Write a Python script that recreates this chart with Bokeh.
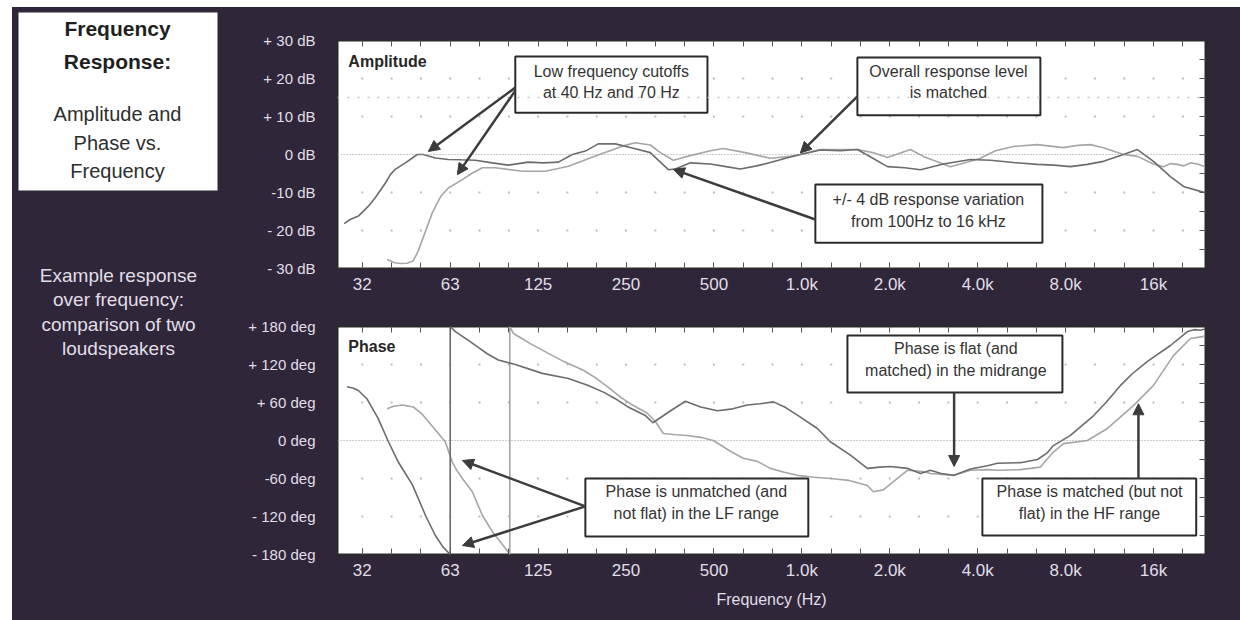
from bokeh.plotting import figure
from bokeh.layouts import row, column
from bokeh.models import (Range1d, FixedTicker, LinearAxis, LogAxis, Arrow,
                          NormalHead, Span, CustomJSTickFormatter)
from bokeh.core.properties import value
from bokeh.embed import file_html
from bokeh.resources import INLINE

FONT = "Liberation Sans"
PANEL = "#2f2739"
LIGHT_TEXT = "#e2dee8"
BOX_TEXT = "#333333"
FRAME = "#2b2b2b"
TICK = "#555555"
ARROW = "#3c3c3c"
COLOR_A = "#6c6c6c"   # speaker with the 40 Hz cutoff
COLOR_B = "#a6a6a6"   # speaker with the 70 Hz cutoff
GRID_DOT = "#bdbdbd"

# ---- axes -------------------------------------------------------------
band_ticks = [31.25, 62.5, 125.0, 250.0, 500.0, 1000.0, 2000.0, 4000.0, 8000.0, 16000.0]
band_labels = ["32", "63", "125", "250", "500", "1.0k", "2.0k", "4.0k", "8.0k", "16k"]
third_octaves = [31.25 * 2 ** (k / 3) for k in range(-1, 29)]
F_MIN, F_MAX = 25.7, 24100

amp_ticks = [-30, -20, -10, 0, 10, 20, 30]
amp_labels = ["- 30 dB", "- 20 dB", "-10 dB", "0 dB", "+ 10 dB", "+ 20 dB", "+ 30 dB"]
amp_grid_rows = [-20, -10, 10, 20]

phase_ticks = [-180, -120, -60, 0, 60, 120, 180]
phase_labels = ["- 180 deg", "- 120 deg", "-60 deg", "0 deg", "+ 60 deg", "+ 120 deg", "+ 180 deg"]
phase_grid_rows = [-120, -60, 60, 120]

# ---- measured amplitude (dB) -------------------------------------------
amp_a_freq = [27.1, 28.4, 30.3, 32.8, 34.6, 37.5, 39.0, 40.5, 43.9, 48.2,
              50.6, 55.6, 61.6, 68.0, 76.2, 87.0, 98.8, 115.7, 130.0, 146.6,
              163.7, 181.4, 200.9, 229.7, 269.0, 302.7, 327.7, 349.0, 368.8, 415.0,
              486.0, 550.0, 615.6, 700.0, 780.0, 880.0, 988.0, 1157.0, 1355.0, 1549.0,
              1750.0, 1963.0, 2250.0, 2546.0, 3053.0, 3776.0, 4420.0, 5300.0, 6406.0, 7300.0,
              8309.0, 9500.0, 10778.0, 12622.0, 14091.0, 15990.0, 18278.0, 20253.0, 23163.0, 24000.0]
amp_a_db = [-18.2, -17.1, -16.2, -13.6, -11.4, -7.5, -5.3, -3.9, -2.2, 0.0,
            0.0, -0.9, -1.3, -1.4, -1.5, -2.2, -2.8, -2.0, -2.2, -2.0,
            0.0, 0.9, 2.8, 2.8, 1.5, 0.5, -2.0, -4.0, -3.8, -2.2,
            -2.5, -3.2, -3.8, -3.0, -2.1, -1.0, 0.0, 1.2, 1.0, 1.3,
            -1.0, -3.2, -3.5, -4.0, -2.5, -1.3, -1.5, -2.1, -2.6, -2.8,
            -3.2, -2.6, -1.8, 0.0, 1.3, -1.8, -5.8, -8.4, -9.7, -10.0]

amp_b_freq = [38.0, 40.0, 42.2, 44.5, 46.7, 48.5, 50.2, 54.3, 58.0, 61.6,
              68.8, 74.0, 80.5, 89.2, 110.3, 132.3, 158.7, 196.3, 242.8, 269.0,
              302.7, 327.7, 363.0, 415.0, 486.0, 538.0, 640.0, 780.0, 913.0, 988.0,
              1157.0, 1549.0, 1750.0, 1963.0, 2353.0, 2607.0, 3225.0, 3700.0, 4087.0, 4600.0,
              5300.0, 6406.0, 7862.0, 8800.0, 9728.0, 10778.0, 12622.0, 14091.0, 15990.0, 17303.0,
              18278.0, 19319.0, 20253.0, 21500.0, 22616.0, 24000.0]
amp_b_db = [-27.6, -28.4, -28.7, -28.6, -28.0, -25.5, -22.4, -15.3, -11.0, -8.8,
            -6.6, -5.0, -3.5, -3.5, -4.4, -4.4, -3.1, -0.4, 2.2, 3.1,
            2.5, 0.5, -1.5, -0.3, 1.0, 1.6, 0.5, -1.0, -0.5, 0.0,
            1.3, 1.3, 0.5, -0.8, 1.3, -0.5, -3.2, -2.0, -1.0, 1.0,
            2.1, 2.6, 1.8, 2.4, 2.6, 1.8, 0.0, -0.5, -2.5, -3.2,
            -2.4, -2.6, -3.0, -2.2, -2.5, -3.2]

# ---- measured phase (deg, wrapped to +/-180) ----------------------------
phase_a_freq = [27.7, 29.0, 30.3, 32.4, 35.4, 38.4, 41.5, 46.4, 51.4, 55.6,
                59.0, 62.5, 62.5, 65.1, 72.1, 78.0, 83.7, 91.3, 104.4, 129.2,
                158.7, 185.7, 210.0, 229.7, 256.0, 290.0, 309.0, 350.0, 399.0, 450.0,
                514.0, 580.0, 650.0, 720.0, 799.0, 880.0, 965.0, 1130.0, 1252.0, 1466.0,
                1676.0, 1850.0, 2009.0, 2298.0, 2546.0, 2755.0, 3000.0, 3321.0, 3776.0, 4318.0,
                4672.0, 5603.0, 6406.0, 6900.0, 7266.0, 8309.0, 9959.0, 11000.0, 12328.0, 13500.0,
                15253.0, 18278.0, 20906.0, 22000.0, 23163.0, 24000.0]
phase_a_deg = [85, 83, 79, 66, 35, -2, -34, -70, -118, -150,
               -168, -180, 180, 172, 158, 147, 137, 127, 120, 106,
               98, 87, 76, 66, 52, 40, 28, 45, 62, 53,
               47, 50, 56, 58, 61, 52, 40, 19, -2, -23,
               -44, -42, -41, -44, -52, -47, -52, -55, -45, -40,
               -36, -35, -30, -20, -8, 8, 39, 60, 87, 105,
               125, 150, 172, 175, 174, 176]

phase_b_freq = [38.0, 40.0, 42.8, 46.7, 50.0, 52.6, 56.0, 60.1, 63.5, 66.0,
                68.8, 74.4, 80.5, 87.1, 92.0, 96.5, 100.0, 100.0, 102.8, 110.0,
                117.5, 135.0, 152.5, 178.5, 195.0, 215.7, 240.0, 258.6, 295.7, 315.0,
                335.4, 370.0, 405.0, 450.0, 497.5, 569.0, 630.0, 704.0, 780.0, 870.0,
                965.0, 1100.0, 1252.0, 1450.0, 1676.0, 1757.0, 1900.0, 2058.0, 2298.0, 2607.0,
                2755.0, 3321.0, 3776.0, 4318.0, 4672.0, 5603.0, 6556.0, 7200.0, 7862.0, 9500.0,
                11125.0, 13653.0, 15990.0, 18716.0, 21406.0, 23525.0, 24000.0]
phase_b_deg = [50, 54, 56, 53, 42, 30, 15, -2, -34, -48,
               -60, -81, -118, -144, -158, -170, -180, 180, 169, 161,
               153, 138, 125, 111, 100, 85, 68, 58, 43, 30,
               11, 9, 8, 5, 0, -17, -28, -33, -44, -50,
               -55, -58, -60, -63, -71, -81, -78, -65, -47, -49,
               -52, -55, -47, -46, -47, -46, -42, -20, -5, 0,
               19, 55, 87, 134, 161, 164, 165]

# ---- callouts: (left, right, top, bottom), text x, text rows -------------
amp_callouts = [
    ((104.4, 475.0, 25.8, 11.0), 222.7, [(21.8, "Low frequency cutoffs"), (16.3, "at 40 Hz and 70 Hz")]),
    ((1549.0, 6556.0, 25.5, 10.3), 3176.0, [(21.8, "Overall response level"), (16.3, "is matched")]),
    ((1112.0, 6662.0, -7.9, -23.2), 2712.0, [(-11.8, "+/- 4 dB response variation"), (-17.6, "from 100Hz to 16 kHz")]),
]
amp_arrows = [
    (104.4, 17.6, 52.6, 0.8),
    (104.4, 16.8, 66.1, -5.3),
    (1549.0, 15.3, 988.0, 0.4),
    (1112.0, -17.1, 363.0, -3.9),
]
phase_callouts = [
    ((181.4, 1052.0, -60.0, -151.6), 435.0, [(-80.5, "Phase is unmatched (and"), (-115.3, "not flat) in the LF range")]),
    ((1432.0, 7800.0, 165.8, 75.8), 3366.0, [(145.0, "Phase is flat (and"), (110.5, "matched) in the midrange")]),
    ((4150.0, 22400.0, -60.0, -150.0), 9660.0, [(-80.5, "Phase is matched (but not"), (-115.3, "flat) in the HF range")]),
]
phase_arrows = [
    (181.4, -104.0, 68.8, -31.6),
    (181.4, -104.0, 68.8, -165.8),
    (3321.0, 75.8, 3321.0, -41.0),
    (14204.0, -60.0, 14204.0, 58.0),
]

blank = CustomJSTickFormatter(code="return ''")


def make_panel(height, border_top, border_bottom, y_lo, y_hi, y_ticks, y_labels,
               right_ticks, grid_rows, extra_rows, title, title_y):
    p = figure(width=998, height=height, x_axis_type="log",
               x_range=Range1d(F_MIN, F_MAX), y_range=Range1d(y_lo, y_hi),
               output_backend="svg", toolbar_location=None,
               min_border_left=95, min_border_right=35,
               min_border_top=border_top, min_border_bottom=border_bottom,
               background_fill_color="white", border_fill_color=PANEL,
               outline_line_color=FRAME, outline_line_width=2)
    p.grid.visible = False

    xa = p.below[0]
    xa.ticker = FixedTicker(ticks=band_ticks, minor_ticks=third_octaves)
    xa.major_label_overrides = {t: l for t, l in zip(band_ticks, band_labels)}
    xa.axis_line_color = None
    xa.major_tick_in, xa.major_tick_out = 6, 0
    xa.minor_tick_in, xa.minor_tick_out = 6, 0
    xa.major_tick_line_color = TICK
    xa.minor_tick_line_color = TICK
    xa.major_label_text_font = FONT
    xa.major_label_text_font_size = "17px"
    xa.major_label_text_color = LIGHT_TEXT
    xa.major_label_standoff = 6

    ya = p.left[0]
    ya.ticker = FixedTicker(ticks=y_ticks)
    ya.major_label_overrides = {t: l for t, l in zip(y_ticks, y_labels)}
    ya.axis_line_color = None
    ya.major_tick_line_color = None
    ya.minor_tick_line_color = None
    ya.major_label_text_font = FONT
    ya.major_label_text_font_size = "15px"
    ya.major_label_text_color = LIGHT_TEXT
    ya.major_label_standoff = 16

    top = LogAxis(ticker=FixedTicker(ticks=third_octaves), formatter=blank,
                  axis_line_color=None, major_tick_in=6, major_tick_out=0,
                  major_tick_line_color=TICK, major_label_text_font_size="1px")
    p.add_layout(top, "above")
    right = LinearAxis(ticker=FixedTicker(ticks=right_ticks), formatter=blank,
                       axis_line_color=None, major_tick_in=6, major_tick_out=0,
                       major_tick_line_color=TICK, major_label_text_font_size="1px")
    p.add_layout(right, "right")

    # dotted grid: points at third-octave columns on each grid row
    gx = [f for f in third_octaves if F_MIN < f < F_MAX for _ in grid_rows]
    gy = [r for f in third_octaves if F_MIN < f < F_MAX for r in grid_rows]
    p.scatter(gx, gy, marker="square", size=2, fill_color=GRID_DOT, line_color=None)
    p.add_layout(Span(location=0, dimension="width", line_color="#9a9a9a",
                      line_width=1, line_dash="1 2"))
    for r in extra_rows:
        p.add_layout(Span(location=r, dimension="width", line_color="#c4c4c4",
                          line_width=1.5, line_dash="2 8"))

    p.text(x=[28.0], y=[title_y], text=[title], text_font=value(FONT),
           text_font_size="16px", text_font_style="bold", text_color="#262626",
           text_align="left", text_baseline="middle")
    return p


def add_callouts(p, callouts, arrows):
    for (l, r, t, b), tx, rows in callouts:
        p.quad(left=[l], right=[r], top=[t], bottom=[b], fill_color="white",
               line_color=FRAME, line_width=2)
        p.text(x=[tx] * len(rows), y=[y for y, _ in rows], text=[s for _, s in rows],
               text_font=value(FONT), text_font_size="16px", text_color=BOX_TEXT,
               text_align="center", text_baseline="middle")
    for xs, ys, xe, ye in arrows:
        p.add_layout(Arrow(end=NormalHead(size=11, fill_color=ARROW, line_color=ARROW),
                           x_start=xs, y_start=ys, x_end=xe, y_end=ye,
                           line_color=ARROW, line_width=2.5))


# ---- amplitude panel ---------------------------------------------------
amp = make_panel(291, 33, 30, -30, 30, amp_ticks, amp_labels,
                 list(range(-25, 30, 5)), amp_grid_rows, [15], "Amplitude", 24.5)
amp.line(amp_b_freq, amp_b_db, line_color=COLOR_B, line_width=1.6)
amp.line(amp_a_freq, amp_a_db, line_color=COLOR_A, line_width=1.6)
add_callouts(amp, amp_callouts, amp_arrows)

# ---- phase panel -------------------------------------------------------
ph = make_panel(322, 28, 66, -180, 180, phase_ticks, phase_labels,
                list(range(-150, 180, 30)), phase_grid_rows, [], "Phase", 148)
ph.line(phase_b_freq, phase_b_deg, line_color=COLOR_B, line_width=1.6)
ph.line(phase_a_freq, phase_a_deg, line_color=COLOR_A, line_width=1.6)
add_callouts(ph, phase_callouts, phase_arrows)
freq_axis = ph.below[0]
freq_axis.axis_label = "Frequency (Hz)"
freq_axis.axis_label_text_font = FONT
freq_axis.axis_label_text_font_size = "16px"
freq_axis.axis_label_text_font_style = "normal"
freq_axis.axis_label_text_color = LIGHT_TEXT
freq_axis.axis_label_standoff = 8

# ---- side column: heading card and caption -------------------------------
side = figure(width=230, height=613, x_range=Range1d(0, 230), y_range=Range1d(613, 0),
              output_backend="svg", toolbar_location=None, min_border=0,
              x_axis_location=None, y_axis_location=None,
              background_fill_color=PANEL, border_fill_color=PANEL,
              outline_line_color=None)
side.grid.visible = False
side.quad(left=[6], right=[205], top=[5], bottom=[183], fill_color="white", line_color=None)
side.text(x=[105, 105], y=[21, 54], text=["Frequency", "Response:"],
          text_font=value(FONT), text_font_size="21px", text_font_style="bold",
          text_color="#1f1f1f", text_align="center", text_baseline="middle")
side.text(x=[105, 105, 105], y=[106, 135, 163],
          text=["Amplitude and", "Phase vs.", "Frequency"],
          text_font=value(FONT), text_font_size="20px", text_color="#2e2e2e",
          text_align="center", text_baseline="middle")
side.text(x=[106] * 4, y=[268, 292, 317, 341],
          text=["Example response", "over frequency:", "comparison of two", "loudspeakers"],
          text_font=value(FONT), text_font_size="19px", text_color=LIGHT_TEXT,
          text_align="center", text_baseline="middle")

panel_bg = {"background-color": PANEL}
layout = row(side, column(amp, ph, styles=panel_bg), margin=(7, 0, 0, 12), styles=panel_bg)

with open("out.html", "w") as fh:
    fh.write(file_html(layout, INLINE))
